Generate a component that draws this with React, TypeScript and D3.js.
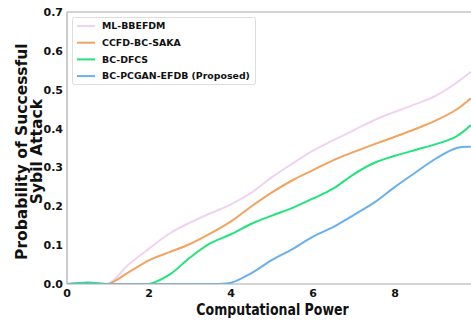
import React from "react";
import * as d3 from "d3";

const xs = [0, 0.5, 1, 1.5, 2, 2.5, 3, 3.5, 4, 4.5, 5, 5.5, 6, 6.5, 7, 7.5, 8, 8.5, 9, 9.5, 9.85];
const mlBBEFDM = [0, 0, 0, 0.05, 0.091, 0.13, 0.158, 0.182, 0.205, 0.235, 0.275, 0.31, 0.343, 0.37, 0.396, 0.422, 0.443, 0.463, 0.485, 0.518, 0.546];
const ccfdBcSaka = [0, 0, 0, 0.03, 0.061, 0.082, 0.103, 0.13, 0.161, 0.2, 0.236, 0.267, 0.293, 0.319, 0.34, 0.36, 0.379, 0.399, 0.421, 0.449, 0.478];
const bcDfcs = [0, 0.004, 0, 0, 0, 0.024, 0.068, 0.105, 0.128, 0.155, 0.176, 0.196, 0.22, 0.246, 0.283, 0.312, 0.33, 0.345, 0.36, 0.38, 0.409];
const bcPcganEfdb = [0, 0, 0, 0, 0, 0, 0, 0, 0.003, 0.028, 0.062, 0.09, 0.122, 0.147, 0.178, 0.21, 0.25, 0.287, 0.323, 0.35, 0.353];

const seriesNames = ["ML-BBEFDM", "CCFD-BC-SAKA", "BC-DFCS", "BC-PCGAN-EFDB (Proposed)"];
const seriesValues = [mlBBEFDM, ccfdBcSaka, bcDfcs, bcPcganEfdb];
const colors = ["#EFD3F1", "#F2A35F", "#22E47B", "#68B0EE"];
const xTicks = [0, 2, 4, 6, 8];
const yTicks = [0, 0.1, 0.2, 0.3, 0.4, 0.5, 0.6, 0.7];

const W = 471, H = 322;
const left = 67, top = 12, bottom = 284;

export default function App() {
  const x = d3.scaleLinear().domain([0, 10]).range([left, left + 410]);
  const y = d3.scaleLinear().domain([0, 0.7]).range([bottom, top]);
  const line = d3.line<number>().x((_, i) => x(xs[i])).y((d) => y(d)).curve(d3.curveCatmullRom.alpha(0.5));
  const font = "'DejaVu Sans', sans-serif";
  return (
    <svg width={W} height={H} style={{ position: "absolute", left: 0, top: 0 }} fontFamily={font} fontWeight="bold">
      <defs>
        <clipPath id="clip"><rect x={left} y={top} width={W - left} height={bottom - top} /></clipPath>
      </defs>
      <rect width={W} height={H} fill="#fff" />
      <g clipPath="url(#clip)">
        {seriesValues.map((s, k) => (
          <path key={k} d={line(s) || ""} fill="none" stroke={colors[k]} strokeWidth={2} />
        ))}
      </g>
      <line x1={left} x2={W} y1={top} y2={top} stroke="#aaa" strokeWidth={1.2} />
      <line x1={left} x2={left} y1={top} y2={bottom} stroke="#aaa" strokeWidth={1.2} />
      <line x1={left} x2={W} y1={bottom} y2={bottom} stroke="#aaa" strokeWidth={1.2} />
      {yTicks.map((t) => (
        <text key={t} x={left - 4} y={y(t)} dy="0.36em" textAnchor="end" fontSize={11} fill="#111">{t.toFixed(1)}</text>
      ))}
      {xTicks.map((t) => (
        <text key={t} x={x(t)} y={bottom + 13} textAnchor="middle" fontSize={11} fill="#111">{t}</text>
      ))}
      <g transform="translate(272.5,315) scale(0.81,1)">
        <text x={0} y={0} textAnchor="middle" fontSize={15.5} fill="#111">Computational Power</text>
      </g>
      <g transform="translate(0,151.6) rotate(-90)">
        <text x={0} y={26.5} textAnchor="middle" fontSize={15.5} fill="#111">Probability of Successful</text>
        <text x={0} y={41.5} textAnchor="middle" fontSize={15.5} fill="#111">Sybil Attack</text>
      </g>
      <rect x={72.5} y={17.5} width={183} height={67} rx={2} fill="#fff" fillOpacity={0.85} stroke="#ddd" />
      {seriesNames.map((n, k) => (
        <g key={n} transform={`translate(0,${26 + k * 16.7})`}>
          <line x1={77} x2={95} y1={0} y2={0} stroke={colors[k]} strokeWidth={2} />
          <text x={102} y={0} dy="0.36em" fontSize={9.4} fill="#111">{n}</text>
        </g>
      ))}
    </svg>
  );
}
